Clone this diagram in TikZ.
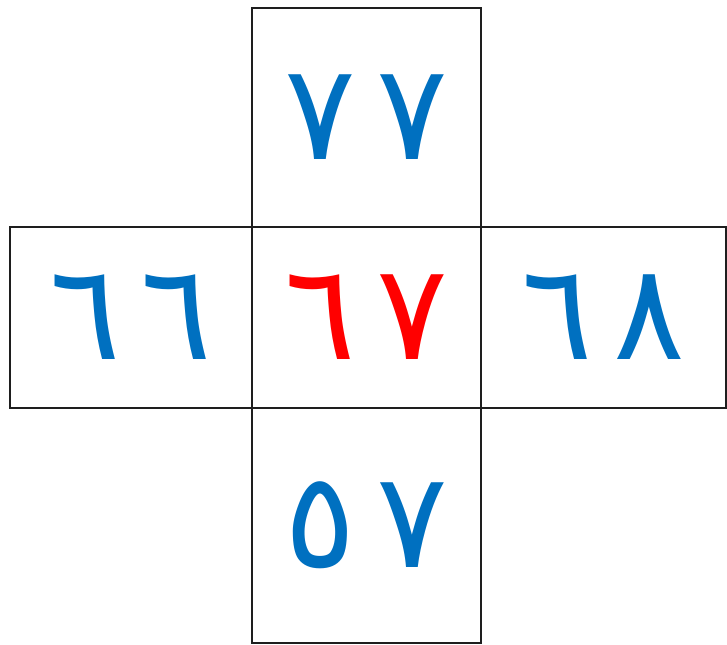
\documentclass[tikz,border=0pt]{standalone}
\usepackage{fontspec}
\usepackage{tikz}
\usetikzlibrary{positioning}
\newfontfamily\arabicfont[Script=Arabic]{DejaVu Sans}
\definecolor{digitblue}{RGB}{0,112,192}
\definecolor{digitred}{RGB}{255,0,0}
\definecolor{gridline}{RGB}{30,30,30}
\newcommand{\digitgap}{\hspace{0.15em}}
\tikzset{
  cell/.style={draw=gridline, line width=1.4pt, inner sep=0pt, outer sep=0pt,
    font=\arabicfont\fontsize{76}{86}\selectfont, text=digitblue},
  centrecell/.style={cell, text=digitred}
}

\begin{document}
\begin{tikzpicture}[x=0.02cm, y=-0.02cm]
  \useasboundingbox (0,0) rectangle (727,645);
  % middle row
  \node[centrecell, minimum width=4.58cm, minimum height=3.62cm] (mid) at (366.5,317.5) {٦\digitgap٧};
  \node[cell, minimum width=4.84cm, minimum height=3.62cm, left=0pt of mid] (west) {٦\digitgap٦};
  \node[cell, minimum width=4.90cm, minimum height=3.62cm, right=0pt of mid] (east) {٦\digitgap٨};
  % top and bottom
  \node[cell, minimum width=4.58cm, minimum height=4.38cm, above=0pt of mid] (north) {٧\digitgap٧};
  \node[cell, minimum width=4.58cm, minimum height=4.70cm, below=0pt of mid] (south) {٥\digitgap٧};
\end{tikzpicture}
\end{document}
